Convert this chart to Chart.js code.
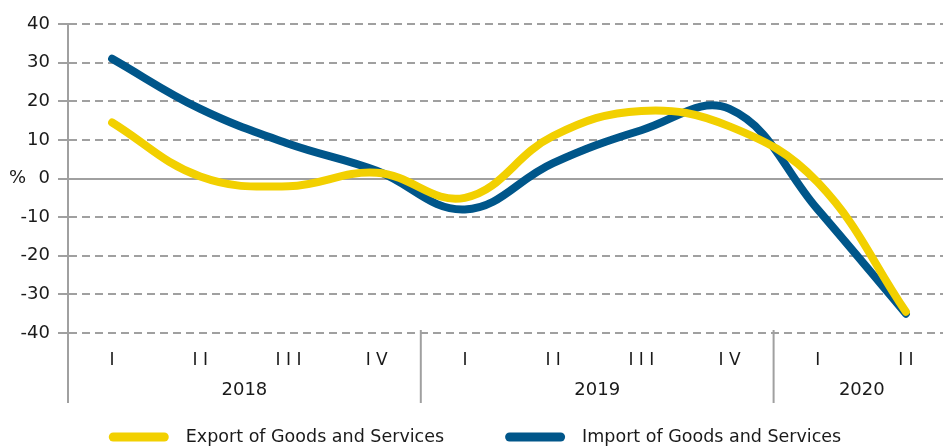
<!DOCTYPE html>
<html>
<head>
<meta charset="utf-8">
<script src="https://cdn.jsdelivr.net/npm/chart.js@4.4.1/dist/chart.umd.min.js"></script>
<style>
  html, body { margin: 0; padding: 0; background: #fff; overflow: hidden; }
  #wrap { width: 950px; height: 448px; }
</style>
</head>
<body>
<div id="wrap"><canvas id="trade" width="950" height="448"></canvas></div>
<script>
// Quarterly growth of exports and imports, % y/y
const quarters = ['I', 'I I', 'I I I', 'I V', 'I', 'I I', 'I I I', 'I V', 'I', 'I I'];
const quarterYears = ['2018', '2018', '2018', '2018', '2019', '2019', '2019', '2019', '2020', '2020'];
const exportGrowth = [14.5, 0.5, -2, 1.5, -5, 11, 17.5, 13.5, -1, -34.5];
const importGrowth = [31, 18, 9, 2, -8, 4, 12.5, 18, -8, -35];
const yMin = -40;
const yMax = 40;
const yStep = 10;

const FONT = 'DejaVu Sans';
const GRID = '#a0a0a0';
const TEXT = '#1a1a1a';

// year captions, group separators and the "%" unit under the x axis
const yearGroups = {
  id: 'yearGroups',
  afterDraw(chart) {
    const { ctx, chartArea, scales } = chart;
    const x = scales.x, y = scales.y;
    const half = (x.getPixelForTick(1) - x.getPixelForTick(0)) / 2;
    const lineEnd = chartArea.bottom + 70;
    ctx.save();
    ctx.strokeStyle = GRID;
    ctx.lineWidth = 2;
    ctx.beginPath();
    ctx.moveTo(chartArea.left, chartArea.bottom);
    ctx.lineTo(chartArea.left, lineEnd);
    ctx.stroke();

    ctx.fillStyle = TEXT;
    ctx.font = '18px "' + FONT + '"';
    ctx.textAlign = 'center';
    ctx.textBaseline = 'middle';
    let start = 0;
    for (let i = 1; i <= quarterYears.length; i++) {
      if (i < quarterYears.length && quarterYears[i] === quarterYears[start]) continue;
      const left = x.getPixelForTick(start) - half;
      const right = x.getPixelForTick(i - 1) + half;
      ctx.fillText(quarterYears[start], (left + right) / 2, chartArea.bottom + 57);
      if (i < quarterYears.length) {
        ctx.beginPath();
        ctx.moveTo(right, chartArea.bottom - 3);
        ctx.lineTo(right, lineEnd);
        ctx.stroke();
      }
      start = i;
    }

    ctx.textAlign = 'left';
    ctx.fillText('%', 9, y.getPixelForValue(0));
    ctx.restore();
  }
};

// legend row along the bottom: long rounded swatch, then the series name
const bottomLegend = {
  id: 'bottomLegend',
  afterDraw(chart) {
    const { ctx } = chart;
    const boxW = 60, boxH = 9, boxGap = 17, itemGap = 61;
    const cy = chart.height - 11;
    ctx.save();
    ctx.font = '17.5px "' + FONT + '"';
    ctx.textBaseline = 'middle';
    const items = chart.data.datasets.map((ds) => ({ ds, w: boxW + boxGap + ctx.measureText(ds.label).width }));
    const total = items.reduce((s, it) => s + it.w, 0) + itemGap * (items.length - 1);
    let x = (chart.width - total) / 2;
    items.forEach((it) => {
      ctx.fillStyle = it.ds.borderColor;
      ctx.beginPath();
      ctx.roundRect(x, cy - boxH / 2, boxW, boxH, boxH / 2);
      ctx.fill();
      ctx.fillStyle = TEXT;
      ctx.fillText(it.ds.label, x + boxW + boxGap, cy);
      x += it.w + itemGap;
    });
    ctx.restore();
  }
};

new Chart(document.getElementById('trade').getContext('2d'), {
  type: 'line',
  data: {
    labels: quarters,
    datasets: [
      { label: 'Export of Goods and Services', data: exportGrowth, borderColor: '#f2d000', backgroundColor: '#f2d000' },
      { label: 'Import of Goods and Services', data: importGrowth, borderColor: '#00568a', backgroundColor: '#00568a' },
    ],
  },
  options: {
    responsive: false,
    animation: false,
    layout: { padding: { top: 24, right: 0, bottom: 38, left: 0 } },
    elements: {
      line: { borderWidth: 8, tension: 0.4, borderCapStyle: 'round', borderJoinStyle: 'round', fill: false },
      point: { radius: 0, hoverRadius: 0 },
    },
    plugins: {
      tooltip: { enabled: false },
      legend: { display: false },
    },
    scales: {
      x: {
        offset: true,
        grid: { display: false },
        border: { display: false },
        ticks: { color: TEXT, font: { family: FONT, size: 17 }, padding: 9, autoSkip: false, maxRotation: 0 },
        afterFit(s) { s.height = 77; },
      },
      y: {
        min: yMin,
        max: yMax,
        ticks: { stepSize: yStep, color: TEXT, font: { family: FONT, size: 18 }, padding: 8 },
        grid: {
          color: GRID,
          lineWidth: 2,
          tickLength: 10,
        },
        border: {
          display: true,
          color: GRID,
          width: 2,
          dash: (c) => (c.tick && c.tick.value === 0 ? [] : [8, 5]),
        },
        afterFit(s) { s.width = 68; },
      },
    },
  },
  plugins: [yearGroups, bottomLegend],
});
</script>
</body>
</html>
